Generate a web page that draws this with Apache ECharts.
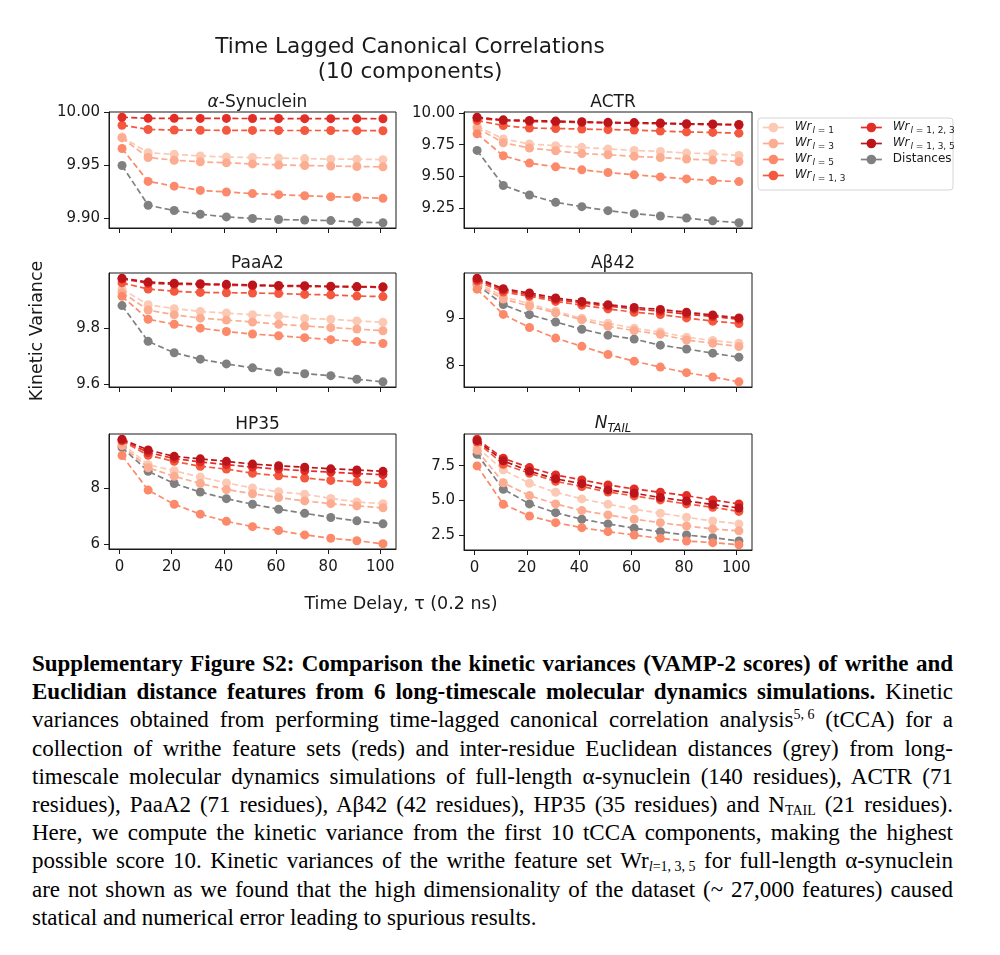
<!DOCTYPE html>
<html><head><meta charset="utf-8">
<script src="https://cdn.jsdelivr.net/npm/echarts@6/dist/echarts.min.js"></script>
<style>
html,body{margin:0;padding:0;background:#fff;}
#chart{position:absolute;left:0;top:0;width:1000px;height:640px;}
#caption{position:absolute;left:32px;top:650px;width:921px;font-family:'Liberation Serif','Times New Roman',serif;font-size:23px;line-height:28.2px;color:#000;}
#caption div{text-align:justify;text-align-last:justify;white-space:nowrap;}
#caption div.last{text-align-last:left;}
#caption .ib{display:inline-block;}
#caption sup{font-size:14px;line-height:0;vertical-align:8px;}
#caption sub{font-size:14px;line-height:0;vertical-align:-3px;}
</style></head>
<body>
<div id="chart"></div>
<div id="caption">
<div><b>Supplementary Figure S2: Comparison the kinetic variances (VAMP-2 scores) of writhe and</b></div>
<div><b>Euclidian distance features from 6 long-timescale molecular dynamics simulations.</b> Kinetic</div>
<div>variances obtained from performing time-lagged canonical correlation analysis<span class="ib"><sup>5,&nbsp;6</sup></span> (tCCA) for a</div>
<div>collection of writhe feature sets (reds) and inter-residue Euclidean distances (grey) from long-</div>
<div>timescale molecular dynamics simulations of full-length α-synuclein (140 residues), ACTR (71</div>
<div>residues), PaaA2 (71 residues), Aβ42 (42 residues), HP35 (35 residues) and <span class="ib">N<sub>TAIL</sub></span> (21 residues).</div>
<div>Here, we compute the kinetic variance from the first 10 tCCA components, making the highest</div>
<div>possible score 10. Kinetic variances of the writhe feature set <span class="ib">Wr<sub><i>l</i>=1,&nbsp;3,&nbsp;5</sub></span> for full-length α-synuclein</div>
<div>are not shown as we found that the high dimensionality of the dataset (~ 27,000 features) caused</div>
<div class="last">statical and numerical error leading to spurious results.</div>
</div>
<script>
// ---------- data ----------
const TAU = [1, 11, 21, 31, 41, 51, 61, 71, 81, 91, 101];
const X_TICKS = [0, 20, 40, 60, 80, 100];
const SERIES_NAMES = ['Wr_l=1', 'Wr_l=3', 'Wr_l=5', 'Wr_l=1,3', 'Wr_l=1,2,3', 'Wr_l=1,3,5', 'Distances'];

// alpha-Synuclein (no Wr_l=1,3,5)
const SYN_L1   = [9.977, 9.962, 9.9605, 9.959, 9.958, 9.9575, 9.957, 9.9565, 9.956, 9.956, 9.9555];
const SYN_L3   = [9.976, 9.9575, 9.955, 9.9535, 9.9525, 9.9515, 9.9505, 9.950, 9.9495, 9.949, 9.9487];
const SYN_L5   = [9.966, 9.935, 9.9305, 9.9265, 9.925, 9.9235, 9.9225, 9.9215, 9.9205, 9.920, 9.919];
const SYN_L13  = [9.988, 9.984, 9.9835, 9.9833, 9.9832, 9.9831, 9.983, 9.983, 9.983, 9.9829, 9.9828];
const SYN_L123 = [9.9955, 9.9945, 9.9945, 9.9944, 9.9944, 9.9943, 9.9943, 9.9942, 9.9942, 9.9942, 9.9941];
const SYN_DIST = [9.950, 9.9125, 9.9075, 9.904, 9.9015, 9.900, 9.899, 9.8985, 9.898, 9.8965, 9.896];

// ACTR
const ACTR_L1   = [9.895, 9.795, 9.755, 9.742, 9.729, 9.716, 9.705, 9.697, 9.684, 9.679, 9.665];
const ACTR_L3   = [9.88, 9.765, 9.724, 9.702, 9.68, 9.671, 9.658, 9.649, 9.637, 9.629, 9.618];
const ACTR_L5   = [9.835, 9.663, 9.605, 9.576, 9.552, 9.531, 9.513, 9.497, 9.481, 9.468, 9.46];
const ACTR_L13  = [9.94, 9.90, 9.88, 9.877, 9.872, 9.868, 9.865, 9.857, 9.85, 9.846, 9.84];
const ACTR_L123 = [9.958, 9.938, 9.932, 9.928, 9.924, 9.92, 9.918, 9.914, 9.91, 9.907, 9.904];
const ACTR_L135 = [9.965, 9.945, 9.94, 9.935, 9.93, 9.925, 9.923, 9.92, 9.914, 9.912, 9.908];
const ACTR_DIST = [9.705, 9.429, 9.355, 9.297, 9.263, 9.232, 9.208, 9.19, 9.174, 9.152, 9.137];

// PaaA2
const PAA_L1   = [9.941, 9.885, 9.871, 9.861, 9.855, 9.849, 9.845, 9.836, 9.833, 9.827, 9.822];
const PAA_L3   = [9.929, 9.866, 9.849, 9.837, 9.83, 9.823, 9.815, 9.809, 9.803, 9.798, 9.792];
const PAA_L5   = [9.915, 9.833, 9.815, 9.801, 9.789, 9.78, 9.774, 9.767, 9.76, 9.753, 9.746];
const PAA_L13  = [9.963, 9.941, 9.933, 9.929, 9.928, 9.927, 9.925, 9.922, 9.92, 9.916, 9.914];
const PAA_L123 = [9.977, 9.962, 9.958, 9.957, 9.955, 9.953, 9.951, 9.95, 9.949, 9.948, 9.947];
const PAA_L135 = [9.98, 9.966, 9.962, 9.96, 9.958, 9.956, 9.954, 9.953, 9.951, 9.95, 9.949];
const PAA_DIST = [9.882, 9.754, 9.713, 9.69, 9.673, 9.659, 9.645, 9.638, 9.631, 9.618, 9.609];

// Abeta42
const AB_L1   = [9.76, 9.46, 9.31, 9.15, 9.0, 8.895, 8.79, 8.71, 8.6, 8.53, 8.47];
const AB_L3   = [9.72, 9.41, 9.26, 9.12, 8.97, 8.83, 8.74, 8.66, 8.54, 8.47, 8.40];
const AB_L5   = [9.62, 9.084, 8.805, 8.58, 8.406, 8.231, 8.091, 7.965, 7.846, 7.755, 7.652];
const AB_L13  = [9.79, 9.56, 9.47, 9.36, 9.28, 9.2, 9.13, 9.08, 9.01, 8.94, 8.89];
const AB_L123 = [9.82, 9.6, 9.5, 9.4, 9.33, 9.26, 9.2, 9.15, 9.09, 9.04, 8.98];
const AB_L135 = [9.853, 9.629, 9.538, 9.433, 9.36, 9.29, 9.233, 9.19, 9.13, 9.07, 9.01];
const AB_DIST = [9.713, 9.293, 9.078, 8.923, 8.769, 8.643, 8.559, 8.43, 8.35, 8.26, 8.175];

// HP35
const HP_L1   = [9.62, 8.86, 8.64, 8.41, 8.20, 8.02, 7.88, 7.79, 7.64, 7.51, 7.45];
const HP_L3   = [9.55, 8.75, 8.44, 8.18, 7.96, 7.81, 7.67, 7.55, 7.45, 7.37, 7.30];
const HP_L5   = [9.19, 7.94, 7.43, 7.07, 6.81, 6.62, 6.48, 6.32, 6.20, 6.11, 6.00];
const HP_L13  = [9.72, 9.2, 8.98, 8.80, 8.70, 8.55, 8.46, 8.38, 8.29, 8.24, 8.18];
const HP_L123 = [9.75, 9.30, 9.08, 8.96, 8.86, 8.77, 8.70, 8.64, 8.59, 8.54, 8.50];
const HP_L135 = [9.78, 9.39, 9.16, 9.07, 8.98, 8.88, 8.82, 8.77, 8.71, 8.67, 8.62];
const HP_DIST = [9.48, 8.62, 8.18, 7.87, 7.63, 7.43, 7.25, 7.10, 6.95, 6.83, 6.72];

// N_TAIL
const NT_L1   = [8.8, 7.19, 6.23, 5.58, 5.1, 4.72, 4.36, 4.07, 3.78, 3.51, 3.3];
const NT_L3   = [8.6, 6.27, 5.34, 4.74, 4.26, 3.95, 3.64, 3.39, 3.15, 2.94, 2.8];
const NT_L5   = [7.48, 4.72, 3.87, 3.39, 3.03, 2.74, 2.50, 2.26, 2.07, 1.95, 1.8];
const NT_L13  = [9.2, 7.6, 6.95, 6.37, 6.0, 5.6, 5.32, 5.03, 4.74, 4.5, 4.2];
const NT_L123 = [9.40, 8.03, 7.36, 6.83, 6.47, 6.11, 5.82, 5.58, 5.34, 5.03, 4.74];
const NT_L135 = [9.3, 7.85, 7.1, 6.55, 6.2, 5.75, 5.51, 5.2, 4.95, 4.7, 4.45];
const NT_DIST = [8.32, 5.8, 4.74, 4.11, 3.64, 3.30, 2.99, 2.74, 2.5, 2.31, 2.07];

// y tick values per panel
const SYN_YTICKS  = [9.90, 9.95, 10.00];
const ACTR_YTICKS = [9.25, 9.50, 9.75, 10.00];
const PAA_YTICKS  = [9.6, 9.8];
const AB_YTICKS   = [8, 9];
const HP_YTICKS   = [6, 8];
const NT_YTICKS   = [2.5, 5.0, 7.5];

const PANEL_TITLES = ['{a|α}-Synuclein', 'ACTR', 'PaaA2', 'Aβ42', 'HP35', '{n|N}{t|TAIL}'];

// ---------- styling / layout ----------
const FONT = 'DejaVu Sans';
const INK = '#1a1a1a';
const COLORS = ['#fcc9b4', '#fcac90', '#fc8a6a', '#f4583f', '#e22e27', '#bb141a', '#808080'];
const GRIDS = [
  {left: 109, top: 112, width: 287, height: 116},
  {left: 464, top: 112, width: 288, height: 116},
  {left: 109, top: 273, width: 287, height: 114},
  {left: 464, top: 273, width: 288, height: 114},
  {left: 109, top: 434, width: 287, height: 115},
  {left: 464, top: 434, width: 288, height: 116}
];
const TITLE_Y = [98, 98, 259, 259, 420, 420];

const PANELS = [
  {data: [SYN_L1, SYN_L3, SYN_L5, SYN_L13, SYN_L123, null, SYN_DIST], ticks: SYN_YTICKS, dec: 2},
  {data: [ACTR_L1, ACTR_L3, ACTR_L5, ACTR_L13, ACTR_L123, ACTR_L135, ACTR_DIST], ticks: ACTR_YTICKS, dec: 2},
  {data: [PAA_L1, PAA_L3, PAA_L5, PAA_L13, PAA_L123, PAA_L135, PAA_DIST], ticks: PAA_YTICKS, dec: 1},
  {data: [AB_L1, AB_L3, AB_L5, AB_L13, AB_L123, AB_L135, AB_DIST], ticks: AB_YTICKS, dec: 0},
  {data: [HP_L1, HP_L3, HP_L5, HP_L13, HP_L123, HP_L135, HP_DIST], ticks: HP_YTICKS, dec: 0},
  {data: [NT_L1, NT_L3, NT_L5, NT_L13, NT_L123, NT_L135, NT_DIST], ticks: NT_YTICKS, dec: 1}
];

const LEGEND_TEXT = {
  'Wr_l=1': '{w|Wr}{l|l}{s| = 1}',
  'Wr_l=3': '{w|Wr}{l|l}{s| = 3}',
  'Wr_l=5': '{w|Wr}{l|l}{s| = 5}',
  'Wr_l=1,3': '{w|Wr}{l|l}{s| = 1, 3}',
  'Wr_l=1,2,3': '{w|Wr}{l|l}{s| = 1, 2, 3}',
  'Wr_l=1,3,5': '{w|Wr}{l|l}{s| = 1, 3, 5}',
  'Distances': '{d|Distances}'
};

const grids = [], xAxes = [], yAxes = [], series = [], titles = [];

titles.push({
  text: 'Time Lagged Canonical Correlations\n(10 components)',
  left: 405, top: 30, textAlign: 'center',
  textStyle: {fontFamily: FONT, fontSize: 21.6, fontWeight: 'normal', color: INK, lineHeight: 25}
});

PANELS.forEach((p, i) => {
  const g = GRIDS[i];
  grids.push(Object.assign({show: true, borderColor: INK, borderWidth: 1, backgroundColor: 'transparent', containLabel: false}, g));
  titles.push({
    text: PANEL_TITLES[i],
    left: g.left + g.width / 2, top: TITLE_Y[i] - 10, textAlign: 'center',
    textStyle: {
      fontFamily: FONT, fontSize: 17, fontWeight: 'normal', color: INK, lineHeight: 20,
      rich: {
        a: {fontFamily: FONT, fontSize: 17, fontStyle: 'italic', color: INK, lineHeight: 20},
        n: {fontFamily: FONT, fontSize: 17, fontStyle: 'italic', color: INK, lineHeight: 20, verticalAlign: 'top'},
        t: {fontFamily: FONT, fontSize: 11.5, fontStyle: 'italic', color: INK, lineHeight: 11, padding: [8, 0, 0, 0], verticalAlign: 'top'}
      }
    }
  });
  const vals = [];
  p.data.forEach(a => { if (a) vals.push(...a); });
  const mn = Math.min(...vals), mx = Math.max(...vals), pad = (mx - mn) * 0.05;
  xAxes.push({
    type: 'value', gridIndex: i, min: -4, max: 106,
    axisLine: {show: true, onZero: false, lineStyle: {color: INK, width: 1}},
    axisTick: {show: true, length: 5, customValues: X_TICKS, lineStyle: {color: INK, width: 1}},
    axisLabel: {show: i >= 4, customValues: X_TICKS, fontFamily: FONT, fontSize: 15, color: INK, margin: 11},
    splitLine: {show: false}
  });
  yAxes.push({
    type: 'value', gridIndex: i, min: mn - pad, max: mx + pad,
    axisLine: {show: true, onZero: false, lineStyle: {color: INK, width: 1}},
    axisTick: {show: true, length: 5, customValues: p.ticks, lineStyle: {color: INK, width: 1}},
    axisLabel: {show: true, customValues: p.ticks, fontFamily: FONT, fontSize: 15, color: INK, margin: 9,
      formatter: v => Number(v).toFixed(p.dec)},
    splitLine: {show: false}
  });
  p.data.forEach((arr, k) => {
    if (!arr) return;
    series.push({
      name: SERIES_NAMES[k], type: 'line', xAxisIndex: i, yAxisIndex: i,
      data: TAU.map((t, j) => [t, arr[j]]),
      symbol: 'circle', symbolSize: 9, showSymbol: true,
      lineStyle: {color: COLORS[k], width: 1.7, type: [6, 3.2]},
      itemStyle: {color: COLORS[k]},
      emphasis: {disabled: true},
      animation: false,
      z: 2 + (k === 6 ? 0 : k)
    });
  });
});

const legendRich = {
  w: {fontFamily: FONT, fontSize: 12, fontStyle: 'italic', color: INK, lineHeight: 13, padding: [0, 0, 0, 6], verticalAlign: 'top'},
  l: {fontFamily: FONT, fontSize: 9, fontStyle: 'italic', color: INK, lineHeight: 9, padding: [5, 0, 0, 1], verticalAlign: 'top'},
  s: {fontFamily: FONT, fontSize: 9, color: INK, lineHeight: 9, padding: [5, 0, 0, 0], verticalAlign: 'top'},
  d: {fontFamily: FONT, fontSize: 12, color: INK, lineHeight: 13, padding: [0, 0, 0, 6], verticalAlign: 'top'}
};
const legendBase = {
  orient: 'vertical', itemWidth: 21, itemHeight: 12, itemGap: 2, padding: 0,
  formatter: n => LEGEND_TEXT[n],
  textStyle: {fontFamily: FONT, fontSize: 12, color: INK, rich: legendRich},
  lineStyle: {type: 'solid', width: 1.7},
  itemStyle: {borderWidth: 0},
  selectedMode: true
};

const option = {
  animation: false,
  backgroundColor: '#fff',
  title: titles,
  grid: grids,
  xAxis: xAxes,
  yAxis: yAxes,
  series: series,
  legend: [
    Object.assign({}, legendBase, {data: SERIES_NAMES.slice(0, 4), left: 762, top: 121}),
    Object.assign({}, legendBase, {data: SERIES_NAMES.slice(4), left: 860, top: 121})
  ],
  graphic: [
    {type: 'rect', z: 0, shape: {x: 758, y: 118, width: 195, height: 72, r: 3},
      style: {fill: '#fff', stroke: '#d5d5d5', lineWidth: 1}},
    {type: 'text', x: 37, y: 331, rotation: Math.PI / 2,
      style: {text: 'Kinetic Variance', fontFamily: FONT, fontSize: 17.5, fill: INK, align: 'center', verticalAlign: 'middle'}},
    {type: 'text', x: 401, y: 604,
      style: {text: 'Time Delay, τ (0.2 ns)', fontFamily: FONT, fontSize: 17.5, fill: INK, align: 'center', verticalAlign: 'middle'}}
  ]
};

const chart = echarts.init(document.getElementById('chart'), null, {renderer: 'canvas'});
chart.setOption(option);
</script>
</body></html>
